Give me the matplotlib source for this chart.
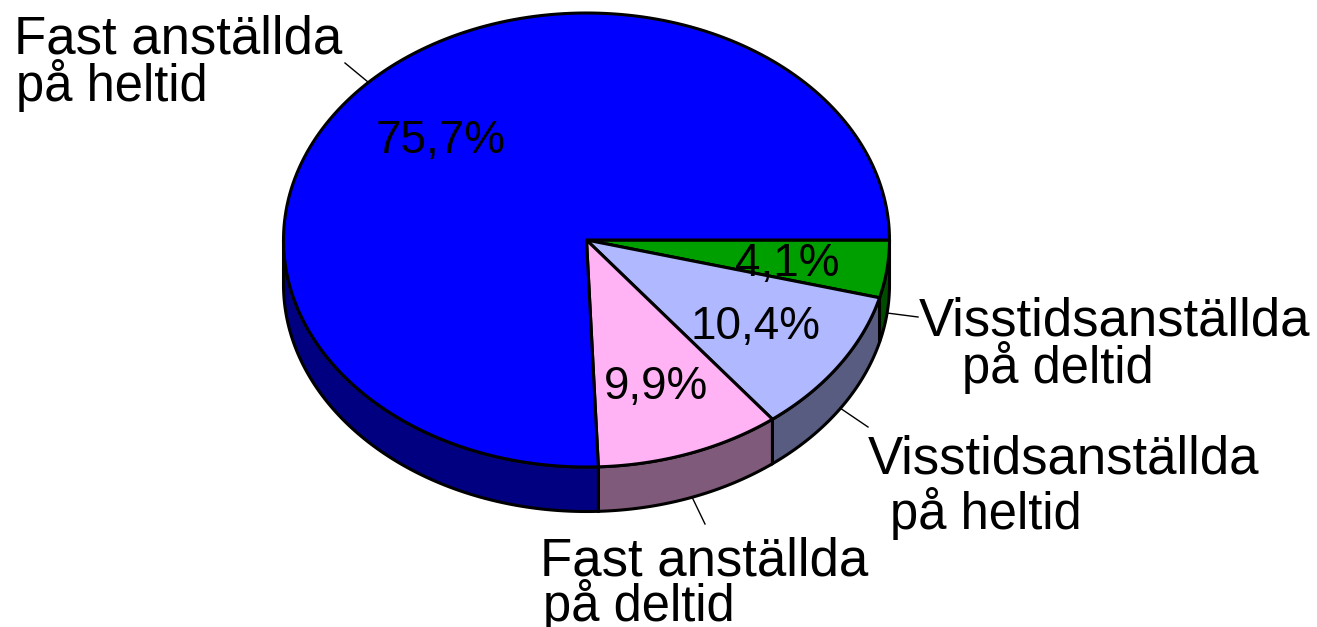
import numpy as np
import matplotlib
matplotlib.use("Agg")
import matplotlib.pyplot as plt

plt.rcParams["font.family"] = ["Liberation Sans", "DejaVu Sans"]

# clockwise from three o'clock
shares = [4.1, 10.4, 9.9, 75.7]
share_labels = ["4,1%", "10,4%", "9,9%", "75,7%"]
top_colors = ["#009F00", "#B0B8FF", "#FFB3F5", "#0000FF"]
side_colors = ["#004D00", "#585C80", "#805A7A", "#000080"]

cx, cy = 586.5, 240
rx, ry = 303, 227
depth = 44.5


def rim(a, b):
    t = np.radians(np.linspace(a, b, 200))
    return cx + rx * np.cos(t), cy + ry * np.sin(t)


fig = plt.figure(figsize=(13.17, 6.27), dpi=100)
ax = fig.add_axes([0, 0, 1, 1])
ax.set_xlim(0, 1317)
ax.set_ylim(627, 0)
ax.axis("off")

edges = np.cumsum([0] + shares) / sum(shares) * 360

# sides first, only the front half shows
for i in range(len(shares)):
    a, b = edges[i], min(edges[i + 1], 180)
    x, y = rim(a, b)
    ax.fill(np.r_[x, x[::-1]], np.r_[y, y[::-1] + depth],
            fc=side_colors[i], ec="black", lw=2.2, zorder=2)

for i in range(len(shares)):
    x, y = rim(edges[i], edges[i + 1])
    ax.fill(np.r_[cx, x], np.r_[cy, y], fc=top_colors[i], ec="black", lw=2.2,
            joinstyle="round", zorder=3)

# percent labels
pct_pos = [(787, 264), (756, 327), (656, 387), (441, 141)]
for s, (px, py) in zip(share_labels, pct_pos):
    ax.text(px, py, s, fontsize=33, ha="center", va="center", zorder=5)

# category labels
ax.text(14, 39, "Fast anställda", fontsize=38, va="center", zorder=5)
ax.text(16, 85, "på heltid", fontsize=36.5, va="center", zorder=5)
ax.text(919, 322, "Visstidsanställda", fontsize=38, va="center", zorder=5)
ax.text(962, 367, "på deltid", fontsize=36.5, va="center", zorder=5)
ax.text(868, 459, "Visstidsanställda", fontsize=38, va="center", zorder=5)
ax.text(890, 514, "på heltid", fontsize=36.5, va="center", zorder=5)
ax.text(540, 561, "Fast anställda", fontsize=38, va="center", zorder=5)
ax.text(543, 605, "på deltid", fontsize=36.5, va="center", zorder=5)

# leader lines
ax.plot([345, 368], [63, 82], color="black", lw=1)
ax.plot([887, 918], [313, 317], color="black", lw=1)
ax.plot([840, 868], [408, 427], color="black", lw=1)
ax.plot([692, 705], [497, 524], color="black", lw=1)

fig.savefig("out.png", dpi=100)
